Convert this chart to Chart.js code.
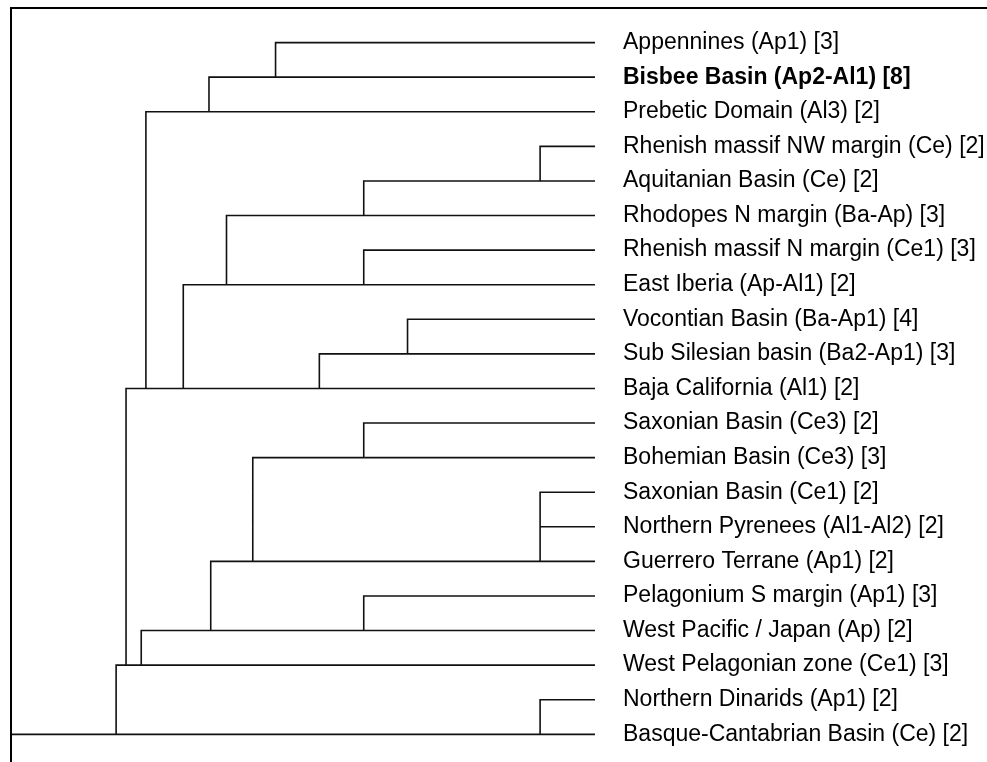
<!DOCTYPE html>
<html>
<head>
<meta charset="utf-8">
<script src="https://cdn.jsdelivr.net/npm/chart.js@4/dist/chart.umd.min.js"></script>
<style>
  html, body { margin: 0; padding: 0; background: #ffffff; }
  #wrap { width: 987px; height: 762px; }
</style>
</head>
<body>
<div id="wrap"><canvas id="c" width="987" height="762"></canvas></div>
<script>
// Leaf labels (top to bottom)
const leafLabels = [
  "Appennines (Ap1) [3]",
  "Bisbee Basin (Ap2-Al1) [8]",
  "Prebetic Domain (Al3) [2]",
  "Rhenish massif NW margin (Ce) [2]",
  "Aquitanian Basin (Ce) [2]",
  "Rhodopes N margin (Ba-Ap) [3]",
  "Rhenish massif N margin (Ce1) [3]",
  "East Iberia (Ap-Al1) [2]",
  "Vocontian Basin (Ba-Ap1) [4]",
  "Sub Silesian basin (Ba2-Ap1) [3]",
  "Baja California (Al1) [2]",
  "Saxonian Basin (Ce3) [2]",
  "Bohemian Basin (Ce3) [3]",
  "Saxonian Basin (Ce1) [2]",
  "Northern Pyrenees (Al1-Al2) [2]",
  "Guerrero Terrane (Ap1) [2]",
  "Pelagonium S margin (Ap1) [3]",
  "West Pacific / Japan (Ap) [2]",
  "West Pelagonian zone (Ce1) [3]",
  "Northern Dinarids (Ap1) [2]",
  "Basque-Cantabrian Basin (Ce) [2]"
];
const boldLeaf = 1;

// Merges: children indices (0..20 leaves, 21+k = merge k) and merge heights (distance)
const mergeLeft   = [0, 21, 3, 23, 6, 24, 8, 27, 26, 22, 11, 13, 32, 31, 16, 34, 36, 30, 19, 38];
const mergeRight  = [1, 2, 4, 5, 7, 25, 9, 10, 28, 29, 12, 14, 15, 33, 17, 35, 18, 37, 20, 39];
const mergeHeight = [0.547, 0.661, 0.094, 0.396, 0.396, 0.631, 0.321, 0.472, 0.705, 0.769,
                     0.396, 0.094, 0.094, 0.586, 0.396, 0.658, 0.777, 0.803, 0.094, 0.820];
const axisMax = 1.0;

// Build dendrogram segments
const nLeaf = leafLabels.length;
const nodeH = [], nodeY = [];
for (let i = 0; i < nLeaf; i++) { nodeH.push(0); nodeY.push(i); }
mergeHeight.forEach((h, k) => {
  nodeH.push(h);
  nodeY.push(Math.max(nodeY[mergeLeft[k]], nodeY[mergeRight[k]]));
});
const pts = [];
mergeHeight.forEach((h, k) => {
  const id = nLeaf + k;
  [mergeLeft[k], mergeRight[k]].forEach(c => {
    pts.push({x: nodeH[c], y: nodeY[c]});
    pts.push({x: h, y: nodeY[c]});
    pts.push({x: h, y: nodeY[id]});
    pts.push({x: NaN, y: NaN});
  });
});
const rootId = nodeH.length - 1;
pts.push({x: nodeH[rootId], y: nodeY[rootId]});
pts.push({x: axisMax, y: nodeY[rootId]});

const framePlugin = {
  id: 'frame',
  afterDraw(chart) {
    const ctx = chart.ctx, a = chart.chartArea;
    ctx.save();
    ctx.strokeStyle = '#000';
    ctx.lineWidth = 2;
    ctx.beginPath();
    ctx.moveTo(a.left, chart.height);
    ctx.lineTo(a.left, a.top);
    ctx.lineTo(chart.width, a.top);
    ctx.stroke();
    ctx.restore();
  }
};

new Chart(document.getElementById('c'), {
  type: 'scatter',
  data: {
    datasets: [{
      data: pts,
      showLine: true,
      spanGaps: false,
      borderColor: '#111111',
      borderWidth: 1.6,
      pointRadius: 0,
      pointHoverRadius: 0,
      fill: false,
      tension: 0
    }]
  },
  options: {
    responsive: false,
    devicePixelRatio: 1,
    animation: false,
    layout: { padding: { left: 11, top: 8, right: 0, bottom: 0 } },
    plugins: { legend: { display: false }, tooltip: { enabled: false } },
    scales: {
      x: {
        type: 'linear', reverse: true, min: 0, max: axisMax, display: false
      },
      y: {
        type: 'linear', position: 'right', reverse: true, min: -1, max: 20.8,
        grid: { display: false, drawTicks: false },
        border: { display: false },
        afterBuildTicks: (scale) => { scale.ticks = leafLabels.map((_, i) => ({ value: i })); },
        afterFit: (scale) => { scale.width = 392; scale.paddingTop = 0; scale.paddingBottom = 0; },
        ticks: {
          autoSkip: false,
          padding: 28,
          color: '#000',
          font: (ctx) => ({ family: '"Liberation Sans", Arial, sans-serif', size: 23,
                            weight: ctx.index === boldLeaf ? 'bold' : 'normal' }),
          callback: (v) => leafLabels[v] !== undefined ? leafLabels[v] : ''
        }
      }
    }
  },
  plugins: [framePlugin]
});
</script>
</body>
</html>
